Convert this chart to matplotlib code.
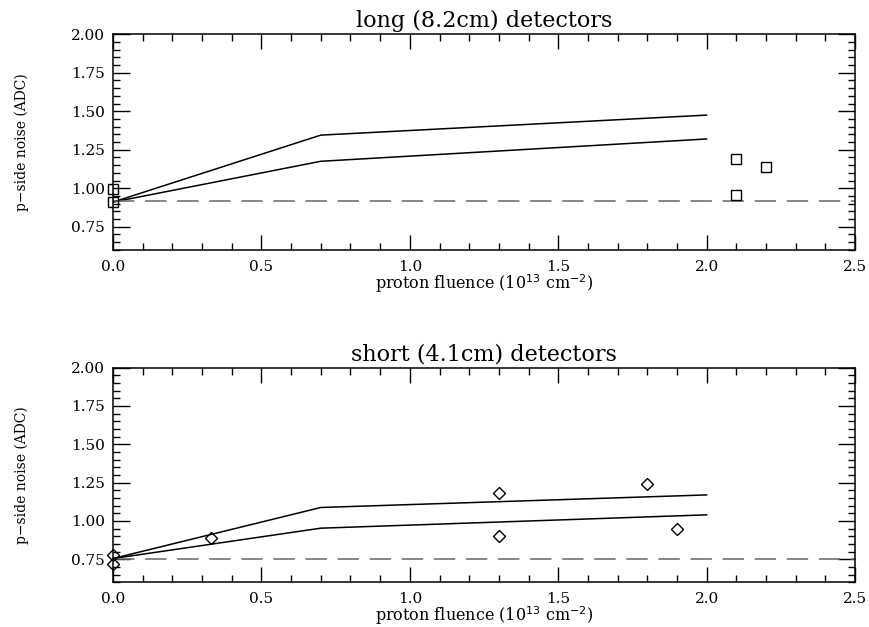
import matplotlib
matplotlib.use("Agg")
import matplotlib.pyplot as plt
from matplotlib.ticker import MultipleLocator, FormatStrFormatter

plt.rcParams['font.family'] = 'DejaVu Serif'

# modelo (linhas) - detectores longos
long_model_x = [0.0, 0.7, 2.0]
long_upper = [0.91, 1.345, 1.475]
long_lower = [0.91, 1.175, 1.32]
long_base = 0.915
# medidas
long_x = [0.0, 0.0, 2.1, 2.1, 2.2]
long_y = [0.995, 0.912, 1.19, 0.954, 1.14]

# detectores curtos
short_model_x = [0.0, 0.7, 2.0]
short_upper = [0.755, 1.088, 1.17]
short_lower = [0.755, 0.953, 1.04]
short_base = 0.755
short_x = [0.0, 0.0, 0.33, 1.3, 1.3, 1.8, 1.9]
short_y = [0.78, 0.72, 0.89, 1.18, 0.90, 1.24, 0.95]

fig = plt.figure(figsize=(8.7, 6.27), dpi=100)
ax1 = fig.add_axes([0.1299, 0.6016, 0.8529, 0.3437])
ax2 = fig.add_axes([0.1299, 0.0713, 0.8529, 0.3423])


def painel(ax, titulo, mx, up, lo, base, px, py, marker, ms):
    ax.plot(mx, up, color='black', lw=1.1)
    ax.plot(mx, lo, color='black', lw=1.1)
    ax.axhline(base, color='#666666', lw=1.1, dashes=(14, 7))
    ax.plot(px, py, linestyle='none', marker=marker, ms=ms, mfc='none',
            mec='black', mew=1.0, clip_on=False)
    ax.set_xlim(0, 2.5)
    ax.set_ylim(0.6, 2.0)
    ax.xaxis.set_major_locator(MultipleLocator(0.5))
    ax.xaxis.set_minor_locator(MultipleLocator(0.1))
    ax.yaxis.set_major_locator(MultipleLocator(0.25))
    ax.yaxis.set_minor_locator(MultipleLocator(0.05))
    ax.xaxis.set_major_formatter(FormatStrFormatter('%.1f'))
    ax.yaxis.set_major_formatter(FormatStrFormatter('%.2f'))
    ax.tick_params(which='both', direction='in', top=True, right=True,
                   labelsize=11, width=1.0)
    ax.tick_params(axis='x', which='major', length=11, pad=7)
    ax.tick_params(axis='y', which='major', length=12, pad=6)
    ax.tick_params(which='minor', length=5)
    for s in ax.spines.values():
        s.set_linewidth(1.1)
    ax.set_title(titulo, fontsize=16, pad=5)
    ax.set_xlabel(r'proton fluence (10$^{13}$ cm$^{-2}$)', fontsize=11.5,
                  labelpad=-1)
    ax.set_ylabel('p\u2212side noise (ADC)', fontsize=10, labelpad=30)


painel(ax1, 'long (8.2cm) detectors', long_model_x, long_upper, long_lower,
       long_base, long_x, long_y, 's', 7)
painel(ax2, 'short (4.1cm) detectors', short_model_x, short_upper, short_lower,
       short_base, short_x, short_y, 'D', 6)

fig.savefig('out.png', dpi=100)
